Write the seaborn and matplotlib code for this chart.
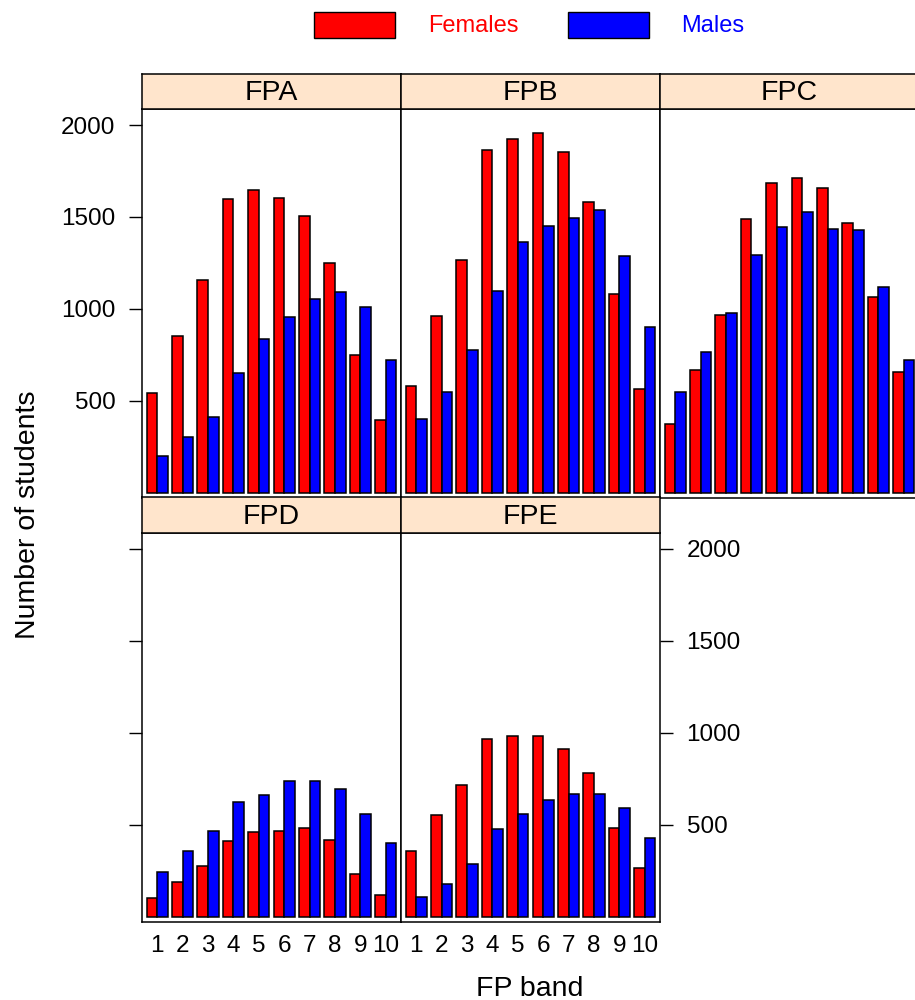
import matplotlib
matplotlib.use("Agg")
import matplotlib.pyplot as plt
from matplotlib.patches import Rectangle
import pandas as pd
import seaborn as sns

sns.set_theme(style="white", rc={
    "text.color": "black",
    "axes.labelcolor": "black",
    "xtick.color": "black",
    "ytick.color": "black",
    "axes.edgecolor": "black",
})
plt.rcParams["font.family"] = ["Liberation Sans", "DejaVu Sans"]

# Number of students by FP band, per panel
panels = ["FPA", "FPB", "FPC", "FPD", "FPE"]
bands = ["1", "2", "3", "4", "5", "6", "7", "8", "9", "10"]
sexes = ["Females", "Males"]

fpa_females = [545, 855, 1158, 1600, 1647, 1605, 1505, 1252, 752, 395]
fpa_males = [199, 306, 415, 650, 837, 958, 1054, 1094, 1013, 721]
fpb_females = [582, 964, 1265, 1864, 1924, 1958, 1853, 1580, 1080, 567]
fpb_males = [402, 551, 777, 1098, 1362, 1451, 1493, 1536, 1290, 904]
fpc_females = [375, 668, 967, 1489, 1687, 1710, 1658, 1469, 1067, 659]
fpc_males = [549, 766, 976, 1293, 1447, 1525, 1437, 1427, 1120, 723]
fpd_females = [103, 189, 277, 410, 459, 467, 484, 417, 232, 120]
fpd_males = [245, 359, 464, 623, 663, 739, 739, 692, 560, 399]
fpe_females = [357, 551, 716, 966, 982, 980, 913, 781, 480, 268]
fpe_males = [109, 181, 288, 477, 560, 633, 668, 668, 591, 429]

y_ticks = [500, 1000, 1500, 2000]

series = {
    "FPA": (fpa_females, fpa_males),
    "FPB": (fpb_females, fpb_males),
    "FPC": (fpc_females, fpc_males),
    "FPD": (fpd_females, fpd_males),
    "FPE": (fpe_females, fpe_males),
}

rows = []
for p in panels:
    fem, mal = series[p]
    for b, f, m in zip(bands, fem, mal):
        rows.append({"panel": p, "band": b, "sex": "Females", "count": f})
        rows.append({"panel": p, "band": b, "sex": "Males", "count": m})
df = pd.DataFrame(rows)

palette = {"Females": "#FF0000", "Males": "#0000FF"}
strip_color = "#FFE5CC"

W, H = 915, 1000
fig = plt.figure(figsize=(W / 100, H / 100), dpi=100)


def fig_box(x0, y0, x1, y1):
    """Pixel box (top-left origin) to figure-fraction rect."""
    return [x0 / W, 1 - y1 / H, (x1 - x0) / W, (y1 - y0) / H]


col_edges = [142, 401, 660, 919]
row_panels = [(109, 497.5), (532.5, 921.5)]
row_strips = [(74, 109), (497.5, 532.5)]

layout = {
    "FPA": (0, 0), "FPB": (0, 1), "FPC": (0, 2),
    "FPD": (1, 0), "FPE": (1, 1),
}

lw = 1.1
tick_font = 17.5
title_font = 20.5

for p in panels:
    r, c = layout[p]
    x0, x1 = col_edges[c], col_edges[c + 1]
    py0, py1 = row_panels[r]
    sy0, sy1 = row_strips[r]

    ax = fig.add_axes(fig_box(x0, py0, x1, py1))
    sns.barplot(
        data=df[df["panel"] == p], x="band", y="count", hue="sex",
        order=bands, hue_order=sexes, palette=palette, saturation=1,
        width=0.83, edgecolor="black", linewidth=lw, errorbar=None,
        legend=False, ax=ax,
    )
    ax.set_xlim(-0.6, 9.6)
    ax.set_ylim(-25, 2087)
    ax.set_xlabel("")
    ax.set_ylabel("")
    ax.set_facecolor("white")
    for s in ax.spines.values():
        s.set_color("black")
        s.set_linewidth(1.1)
        s.set_visible(True)

    ax.set_yticks(y_ticks)
    ax.tick_params(axis="y", length=9.7, width=1.0, color="black",
                   labelsize=tick_font, pad=9.4, direction="out",
                   labelcolor="black")
    if p == "FPA":
        ax.tick_params(axis="y", left=True, labelleft=True,
                       right=False, labelright=False)
    elif p == "FPD":
        ax.tick_params(axis="y", left=True, labelleft=False,
                       right=False, labelright=False)
    elif p == "FPE":
        ax.tick_params(axis="y", left=False, labelleft=False,
                       right=True, labelright=True)
    else:
        ax.tick_params(axis="y", left=False, labelleft=False,
                       right=False, labelright=False)

    if r == 1:
        ax.tick_params(axis="x", bottom=True, labelbottom=True, length=0,
                       labelsize=tick_font, pad=10, labelcolor="black")
    else:
        ax.tick_params(axis="x", bottom=False, labelbottom=False)

    sax = fig.add_axes(fig_box(x0, sy0, x1, sy1))
    sax.set_facecolor(strip_color)
    sax.set_xticks([])
    sax.set_yticks([])
    for s in sax.spines.values():
        s.set_color("black")
        s.set_linewidth(1.1)
    sax.text(0.5, 0.45, p, ha="center", va="center", fontsize=title_font,
             color="black", transform=sax.transAxes)

# Axis titles
fig.text(28 / W, 1 - 515 / H, "Number of students", rotation=90,
         ha="center", va="center", fontsize=title_font, color="black")
fig.text(530 / W, 1 - 989 / H, "FP band", ha="center", va="center",
         fontsize=title_font, color="black")

# Key above the panels
key = [("Females", 314, 428), ("Males", 568, 681)]
for name, rx, tx in key:
    fig.patches.append(Rectangle((rx / W, 1 - 38 / H), 81 / W, 26 / H,
                                 transform=fig.transFigure,
                                 facecolor=palette[name], edgecolor="black",
                                 linewidth=1.0))
    fig.text(tx / W, 1 - 26 / H, name, ha="left", va="center",
             fontsize=17, color=palette[name])

fig.savefig("out.png", dpi=100)
